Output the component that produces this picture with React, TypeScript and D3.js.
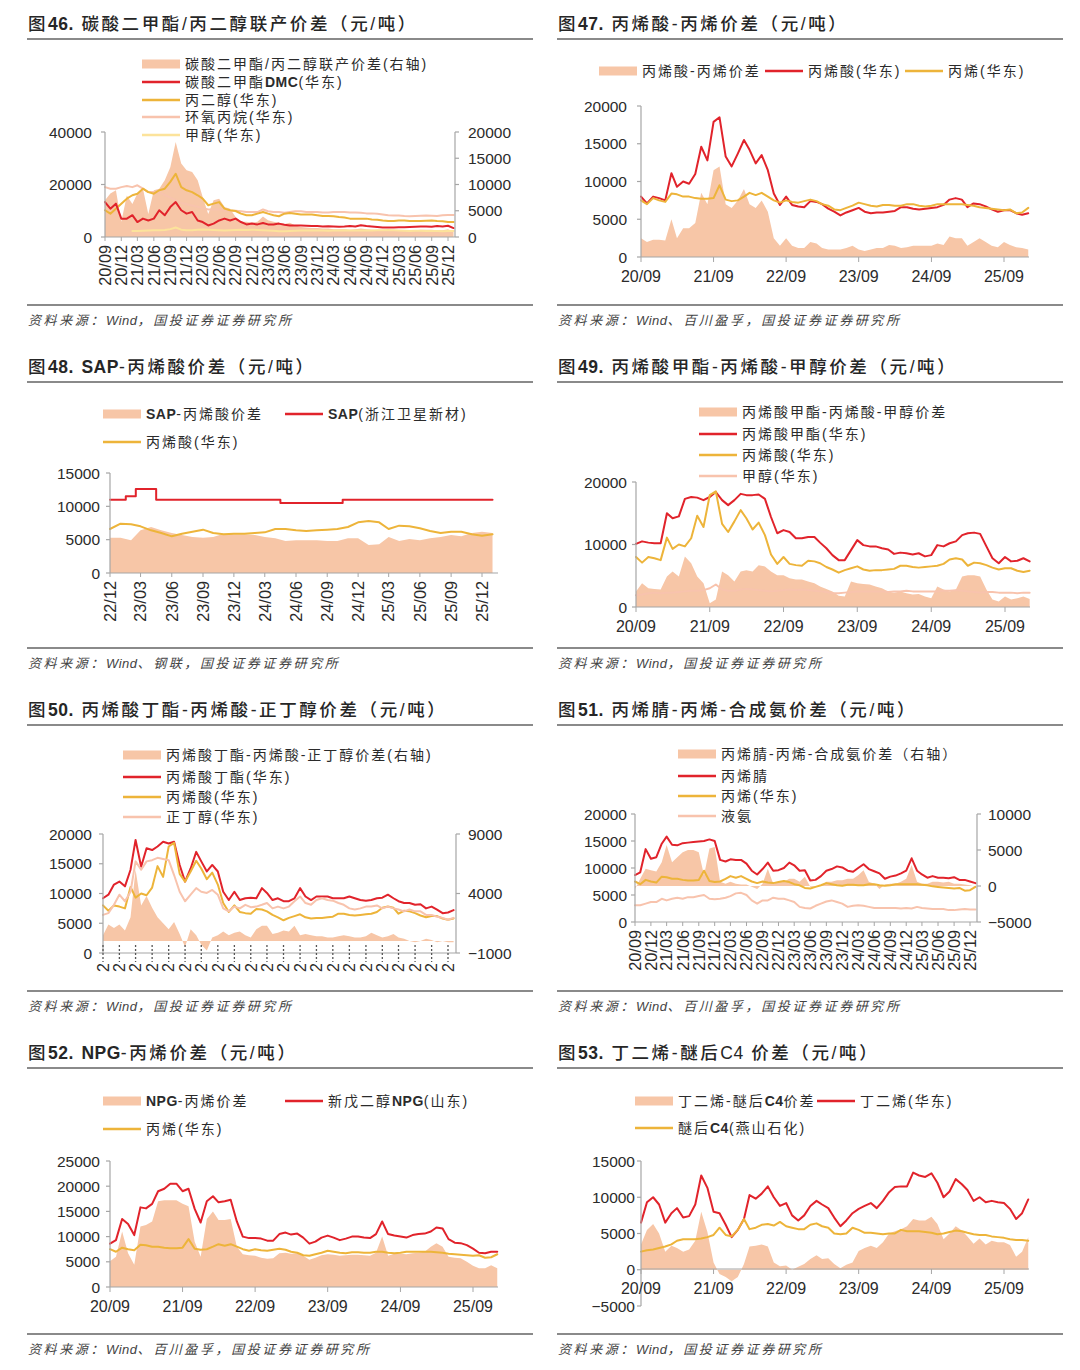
import React from 'react';
import * as d3 from 'd3';

// ---------------- categories / tick labels ----------------
const QUARTER_TICKS = ['20/09', '20/12', '21/03', '21/06', '21/09', '21/12', '22/03', '22/06', '22/09', '22/12', '23/03', '23/06', '23/09', '23/12', '24/03', '24/06', '24/09', '24/12', '25/03', '25/06', '25/09', '25/12'];
const SAP_TICKS = ['22/12', '23/03', '23/06', '23/09', '23/12', '24/03', '24/06', '24/09', '24/12', '25/03', '25/06', '25/09', '25/12'];
const YEAR_TICKS = ['20/09', '21/09', '22/09', '23/09', '24/09', '25/09'];
const STUB_LABEL = '2';

const MAIN_START = '2020-09'; // monthly series start (2020-09 .. 2026-01)
const SAP_START = '2022-12'; // SAP monthly series start (2022-12 .. 2026-01)

const TICKS_46_L = [0, 20000, 40000];
const TICKS_46_R = [0, 5000, 10000, 15000, 20000];
const TICKS_47 = [0, 5000, 10000, 15000, 20000];
const TICKS_48 = [0, 5000, 10000, 15000];
const TICKS_49 = [0, 10000, 20000];
const TICKS_50_L = [0, 5000, 10000, 15000, 20000];
const TICKS_50_R = [-1000, 4000, 9000];
const TICKS_51_L = [0, 5000, 10000, 15000, 20000];
const TICKS_51_R = [-5000, 0, 5000, 10000];
const TICKS_52 = [0, 5000, 10000, 15000, 20000, 25000];
const TICKS_53 = [-5000, 0, 5000, 10000, 15000];

// ---------------- series values (元/吨), monthly ----------------
// shared: 丙烯酸(华东)
const acrylicAcid = [8000, 7100, 8000, 7800, 7500, 11100, 9300, 10000, 9700, 11000, 14600, 12800, 17900, 18500, 13300, 12000, 13700, 15500, 14200, 12400, 13500, 11500, 8400, 6900, 8000, 6900, 6700, 6600, 7400, 7300, 7000, 6400, 6000, 5500, 5900, 6200, 6500, 6000, 5800, 5900, 5900, 6000, 6100, 6600, 6600, 6400, 6300, 6400, 6500, 6600, 6900, 7600, 7800, 7600, 6600, 7100, 7000, 6700, 6300, 6000, 6200, 6200, 5800, 5600, 5800];
// shared: 丙烯(华东)
const propylene = [7500, 7000, 7800, 7500, 7300, 8400, 8300, 8000, 8000, 7800, 7700, 7700, 7800, 9500, 7600, 7400, 7500, 8000, 8500, 8200, 8500, 8000, 7500, 7200, 7500, 7300, 7200, 7400, 7600, 7400, 7000, 6800, 6300, 6200, 6500, 6800, 7200, 7000, 6800, 6700, 6900, 6900, 6800, 6800, 7000, 7000, 6800, 6700, 6800, 7000, 7000, 7000, 7000, 7000, 6900, 6800, 6600, 6500, 6400, 6300, 6200, 6300, 5800, 5900, 6500];
// shared: 甲醇(华东)
const methanol = [1900, 2000, 2200, 2300, 2200, 2300, 2300, 2400, 2500, 2600, 2600, 2700, 3000, 3600, 2800, 2600, 2600, 2800, 2900, 2800, 2700, 2600, 2500, 2600, 2700, 2800, 2700, 2800, 2700, 2600, 2500, 2400, 2200, 2200, 2300, 2400, 2500, 2500, 2500, 2500, 2500, 2400, 2500, 2500, 2600, 2500, 2500, 2500, 2500, 2500, 2600, 2600, 2700, 2600, 2500, 2400, 2300, 2400, 2400, 2300, 2300, 2300, 2200, 2300, 2300];

// 图46
const dmcSpread = [7000, 8300, 8900, 2900, 7900, 6300, 8300, 9200, 4400, 8900, 9200, 10800, 13300, 18100, 14000, 12700, 12400, 10800, 7600, 4400, 7000, 7300, 5700, 5400, 3800, 2900, 2900, 2700, 2900, 3900, 3200, 2900, 2700, 2500, 2700, 2200, 1900, 1800, 1700, 1700, 1600, 1600, 1500, 1500, 1500, 1400, 1500, 1600, 1500, 1400, 1300, 1300, 1200, 1200, 1200, 1300, 1300, 1300, 1400, 1400, 1400, 1300, 1300, 1500, 1000];
const dmc = [13300, 10800, 12700, 7000, 7000, 8300, 5700, 7000, 6300, 7000, 10200, 8300, 11400, 13300, 10200, 8900, 9500, 6300, 5700, 4400, 5100, 6300, 7000, 6300, 7000, 5700, 4800, 5100, 4800, 5300, 4800, 4800, 5100, 4700, 4400, 4400, 4400, 4300, 4200, 4200, 4000, 4100, 4000, 3900, 4000, 4200, 4000, 4500, 4200, 4000, 3800, 3600, 3600, 3600, 3700, 3700, 3800, 3900, 4000, 4000, 3900, 4200, 4000, 4300, 3400];
const propyleneGlycol = [10200, 8900, 10800, 12700, 14600, 15900, 16500, 18400, 17100, 16500, 17800, 18400, 21000, 24100, 19000, 17800, 17100, 15900, 14600, 12100, 12700, 13300, 10800, 10200, 9900, 8900, 8300, 8300, 8900, 9500, 8900, 8300, 7900, 8900, 9100, 8900, 8600, 8600, 8600, 8300, 8000, 8000, 7900, 7600, 7400, 7000, 7000, 7000, 7000, 6700, 6600, 6300, 6100, 6100, 6300, 6300, 6100, 6100, 6100, 6200, 6300, 6100, 6000, 5700, 5700];
const propyleneOxide = [19000, 18400, 18400, 19000, 19400, 19000, 19700, 18400, 17100, 17100, 17000, 16000, 15000, 14000, 13000, 12500, 12000, 11500, 11000, 10500, 10500, 10500, 10000, 10000, 10000, 9800, 9500, 9500, 9500, 10500, 9800, 9500, 9500, 9200, 9500, 9800, 9800, 9500, 9500, 9500, 9300, 9300, 9500, 9500, 9500, 9300, 9300, 9200, 9000, 9000, 8900, 8600, 8300, 8200, 8200, 8000, 7900, 8000, 8100, 8200, 8100, 8000, 8300, 8400, 8400];

// 图47
const acrylicSpread = [2500, 2000, 2300, 2300, 2200, 5000, 2500, 3800, 3800, 4500, 8500, 7000, 11500, 12000, 7000, 6500, 7500, 9000, 7000, 6500, 7500, 6000, 2500, 1500, 2500, 1500, 1200, 1200, 2000, 1800, 1200, 1000, 1000, 1000, 1200, 1500, 1000, 800, 1000, 1200, 1200, 1600, 1500, 1200, 1300, 1500, 1500, 1500, 1500, 1800, 1600, 2700, 2500, 2500, 1500, 2000, 2500, 2000, 1500, 1300, 2000, 1600, 1300, 1200, 1000];

// 图48
const sapPrice = [11000, 11000, 11500, 12600, 12600, 11000, 11000, 11000, 11000, 11000, 11000, 11000, 11000, 11000, 11000, 11000, 11000, 10500, 10500, 10500, 10500, 10500, 10500, 11000, 11000, 11000, 11000, 11000, 11000, 11000, 11000, 11000, 11000, 11000, 11000, 11000, 11000, 11000];
const sapSpread = [5300, 5300, 4900, 6400, 6900, 6400, 6000, 5700, 5400, 5300, 5400, 5900, 5800, 5800, 5700, 5400, 5200, 4800, 4900, 4900, 4900, 4800, 4800, 5200, 5200, 4200, 4300, 5400, 4800, 5100, 4900, 5200, 5400, 5700, 5500, 6000, 6200, 6000];
const acrylicAcidSap = acrylicAcid.slice(27);

// 图49
const methylAcrylate = [10100, 10500, 10300, 10200, 10200, 15000, 14200, 14500, 17300, 17600, 17500, 17100, 17600, 18400, 17100, 16300, 17100, 18100, 17900, 17900, 18000, 17300, 14400, 11800, 12300, 12000, 11000, 11000, 11200, 11200, 10300, 9400, 8300, 7500, 7500, 9100, 10700, 9900, 9700, 9700, 9400, 9200, 8500, 8700, 8600, 8400, 8600, 8100, 8300, 9900, 9700, 10200, 10500, 11500, 11800, 11900, 11700, 9700, 7800, 7000, 8000, 7300, 7400, 7800, 7300];
const maSpread = [2500, 3800, 3000, 2900, 2800, 4900, 5700, 4900, 8100, 7000, 4900, 3800, 600, 1200, 5700, 5100, 4100, 5700, 5900, 5700, 6700, 6500, 5700, 5100, 5100, 4600, 4400, 4400, 4100, 3800, 3300, 2900, 2500, 1800, 1700, 4100, 3800, 3700, 3600, 3300, 3000, 2500, 2300, 2500, 2200, 2000, 2100, 1700, 1400, 3300, 2800, 2500, 2800, 4900, 5100, 5100, 4900, 2800, 1200, 900, 1700, 1200, 1400, 1700, 1300];

// 图50
const butylAcrylate = [9200, 9800, 11500, 12000, 11200, 14000, 19000, 14500, 17600, 17300, 17900, 18700, 18400, 18700, 14800, 12000, 14200, 17000, 15400, 13700, 14800, 13700, 10300, 8900, 10300, 8900, 9200, 9300, 9200, 10900, 10100, 8900, 9200, 8700, 8700, 9200, 10900, 9500, 8900, 9500, 9500, 9500, 9200, 9200, 9200, 9500, 9200, 8900, 8800, 8900, 9200, 9300, 9800, 9200, 8700, 8400, 8400, 8100, 8200, 7500, 7800, 7300, 6700, 6800, 7200];
const nButanol = [6400, 6700, 8100, 9800, 8700, 10300, 15400, 14000, 15400, 15600, 16000, 15800, 15600, 13100, 10300, 8700, 9800, 10900, 10300, 10100, 10600, 9800, 7500, 7000, 7800, 7500, 8100, 7700, 7800, 8100, 8400, 7500, 7800, 7500, 7800, 8700, 9500, 8400, 8100, 8900, 9200, 8900, 8800, 8400, 8100, 7500, 7300, 7500, 7800, 7800, 8000, 7500, 7800, 7500, 7300, 7000, 7300, 7000, 7000, 6400, 6400, 6100, 5900, 5600, 5900];
const baSpread = [500, 1400, 1100, 1400, 900, 2000, 6000, 3000, 3800, 2800, 2000, 1500, 1000, 1600, 600, -500, 1000, 500, -300, -800, 300, 500, 800, 500, 700, 800, 500, 300, 1000, 1300, 1300, 600, 700, 900, 800, 1300, 500, 600, 500, 400, 400, 300, 300, 400, 500, 400, 300, 300, 400, 700, 500, 300, 400, 600, 300, 200, 0, -100, 0, 200, 100, -100, 0, -100, -100];

// 图51
const acrylonitrile = [8700, 9200, 13500, 11700, 12000, 14500, 15800, 14300, 14200, 14600, 14700, 14800, 14900, 15000, 15300, 15000, 11500, 11200, 11600, 11500, 11500, 10800, 9500, 8800, 9800, 11000, 9500, 9600, 10000, 11000, 10500, 9500, 9600, 7700, 7800, 8500, 9500, 9800, 10300, 10100, 9500, 9300, 10000, 10700, 9800, 9400, 9000, 8000, 8400, 8600, 9000, 9500, 11800, 9500, 8800, 8200, 8500, 8200, 8200, 8100, 8300, 7800, 7800, 7500, 7200];
const ammonia = [3100, 3100, 3400, 3700, 3700, 4300, 4000, 4300, 4500, 4300, 4600, 4600, 4800, 5000, 4300, 4200, 4300, 4500, 4800, 5300, 5400, 5000, 4000, 3400, 4000, 4000, 4500, 4300, 4300, 4000, 3700, 2800, 2600, 2500, 3000, 3400, 3800, 4000, 3700, 3400, 2800, 3000, 3100, 3000, 2800, 2600, 2600, 2600, 2600, 2600, 2500, 2600, 2500, 2800, 2600, 2500, 2400, 2400, 2400, 2200, 2200, 2300, 2400, 2300, 2300];
const anSpread = [-400, 1000, 2400, 2200, 2000, 3300, 5700, 3300, 4000, 4700, 5000, 5000, 4700, 1500, 5200, 5400, 600, 300, 600, 300, 200, 200, -100, -400, 300, 2400, 300, 600, 600, 1000, 1000, 600, 1300, -100, -100, 100, 600, 600, 800, 800, 1000, 1000, 1500, 2200, 600, 300, -400, 200, 300, 300, 600, 1000, 2900, 600, 300, 300, 600, 600, 500, 600, 300, 300, 200, 100, -100];

// 图52
const npg = [8600, 9300, 13500, 12500, 10300, 15800, 15600, 16500, 19000, 19500, 20500, 20500, 19000, 19500, 15500, 12800, 17000, 18000, 16800, 17000, 17300, 13000, 10000, 9700, 9700, 9600, 9200, 9200, 10500, 10800, 10400, 10600, 9800, 8600, 9000, 9800, 10200, 9800, 9300, 9600, 10000, 10000, 9800, 9700, 10500, 13000, 10500, 10200, 10000, 9800, 10300, 10500, 10600, 11000, 11800, 11600, 9500, 8800, 8700, 8300, 7600, 6800, 6700, 7000, 7000];
const npgSpread = [5100, 6000, 11000, 6700, 4400, 12000, 12300, 13000, 17000, 17200, 17200, 17200, 16500, 16000, 9000, 6000, 13500, 15000, 13300, 13300, 13500, 8000, 6500, 6300, 6200, 5800, 5600, 5700, 6700, 6800, 6600, 6700, 6200, 5400, 5800, 6300, 6500, 6400, 6200, 6300, 6400, 6400, 6300, 6200, 6800, 10000, 6200, 6600, 6600, 6500, 6700, 6800, 7000, 8000, 8700, 8000, 6000, 5800, 5700, 5000, 4200, 3700, 3700, 4300, 3700];

// 图53
const butadiene = [6500, 9300, 10000, 9000, 6500, 7800, 8500, 7200, 7400, 9000, 13000, 11300, 8000, 7800, 6200, 4500, 5500, 7000, 10300, 9800, 10500, 11500, 10000, 8800, 9200, 7500, 6800, 7500, 8800, 9500, 9000, 8500, 7200, 6000, 6800, 7800, 8400, 8800, 9200, 8500, 9500, 10700, 11400, 11500, 11500, 13400, 13000, 12800, 13300, 12000, 10000, 10800, 12500, 11800, 11000, 9500, 10000, 9300, 9500, 9300, 9200, 8400, 7000, 7800, 9700];
const c4Raffinate = [2500, 2700, 2800, 3000, 3200, 3500, 4000, 4200, 4200, 4200, 4300, 4500, 4800, 5800, 4800, 4600, 5500, 7000, 5600, 5800, 6200, 6300, 6100, 6600, 6000, 5800, 5600, 5600, 6200, 6400, 6000, 5800, 5000, 4900, 5000, 5800, 5500, 5100, 5100, 5000, 4900, 5000, 5000, 5500, 5300, 5300, 5300, 5200, 5100, 4900, 5000, 5200, 5400, 5300, 5100, 4900, 4800, 4800, 4600, 4500, 4400, 4200, 4100, 4100, 4000];
const bdSpread = [3500, 5500, 6300, 5000, 2500, 3300, 3000, 2500, 2800, 4000, 8000, 5200, 1000, -600, -1000, -1600, -1000, 800, 3200, 3300, 3500, 3200, 1000, 500, 600, 0, 400, 800, 1500, 2000, 1500, 1600, 800, 200, 700, 1000, 2600, 3000, 3300, 3000, 3800, 5000, 5300, 5600, 6000, 7000, 6800, 6800, 7300, 6300, 4200, 5000, 6000, 5400, 4600, 3600, 4300, 3500, 4000, 3800, 3800, 3400, 1800, 2500, 4500];

// ---------------- styles ----------------
const C_AREA = '#F7C6A7';
const C_RED = '#E1232B';
const C_GOLD = '#EDB43A';
const C_PINK = '#F8C3AD';
const C_PALE = '#FCE39B';
const C_AXIS = '#a6a6a6';
const C_TEXT = '#2b2b2b';
const F_NUM = "'Liberation Sans', Arial, sans-serif";
const F_MIX = "'Liberation Sans', 'Noto Sans CJK SC', sans-serif";

// ---------------- helpers ----------------
const parseYM = (s: string) => {
  const [y, m] = s.split('-');
  return new Date(+y, +m - 1, 1);
};
const parseTick = (s: string) => new Date(2000 + +s.slice(0, 2), +s.slice(3, 5) - 1, 1);
const fmtNum = (v: number) => (v < 0 ? '\u2212' + Math.abs(v) : String(v));
const LATIN = /^[A-Za-z0-9.]+$/;
const splitRuns = (s: string) => s.split(/([A-Za-z0-9.]+)/).filter((t) => t.length > 0);

function Rich({ text, spacing, latinBold, bold }: { text: string; spacing: number; latinBold?: boolean; bold?: boolean }) {
  return (
    <>
      {splitRuns(text).map((t, i) => {
        const latin = LATIN.test(t);
        return (
          <tspan
            key={i}
            letterSpacing={latin ? 0.5 : spacing}
            fontWeight={bold || (latin && latinBold) ? 700 : undefined}
          >
            {t}
          </tspan>
        );
      })}
    </>
  );
}

type SeriesSpec = {
  kind: 'area' | 'line';
  values: number[];
  start: string;
  from?: number;
  color: string;
  axis?: 'left' | 'right';
  width?: number;
  curve?: d3.CurveFactory;
};
type AxisSpec = { domain: [number, number]; range: [number, number]; ticks: number[]; x: number; labelX: number };
type LegendItem = { label: string; kind: 'area' | 'line'; color: string; x: number; y: number };
type PanelSpec = {
  row: number;
  x0: number;
  x1: number;
  title: [string, boolean][];
  source: string;
  xTicks: string[];
  xRange: [number, number];
  xAxisY: number;
  xAxisEnd: number;
  xLabel: 'rotated' | 'horizontal' | 'stub';
  left: AxisSpec;
  right?: AxisSpec;
  series: SeriesSpec[];
  legend: LegendItem[];
};

const PANELS: PanelSpec[] = [
  {
    row: 0, x0: 27, x1: 533,
    title: [['图', false], ['46.', true], [' 碳酸二甲酯/丙二醇联产价差（元/吨）', false]],
    source: '资料来源：Wind，国投证券证券研究所',
    xTicks: QUARTER_TICKS, xRange: [105, 448], xAxisY: 237, xAxisEnd: 455, xLabel: 'rotated',
    left: { domain: [0, 40000], range: [237, 132], ticks: TICKS_46_L, x: 105, labelX: 92 },
    right: { domain: [0, 20000], range: [237, 132], ticks: TICKS_46_R, x: 455, labelX: 468 },
    series: [
      { kind: 'area', values: dmcSpread, start: MAIN_START, color: C_AREA, axis: 'right' },
      { kind: 'line', values: propyleneOxide, start: MAIN_START, color: C_PINK },
      { kind: 'line', values: methanol, start: MAIN_START, from: 5, color: C_PALE },
      { kind: 'line', values: propyleneGlycol, start: MAIN_START, color: C_GOLD },
      { kind: 'line', values: dmc, start: MAIN_START, color: C_RED },
    ],
    legend: [
      { label: '碳酸二甲酯/丙二醇联产价差(右轴)', kind: 'area', color: C_AREA, x: 142, y: 64 },
      { label: '碳酸二甲酯DMC(华东)', kind: 'line', color: C_RED, x: 142, y: 82 },
      { label: '丙二醇(华东)', kind: 'line', color: C_GOLD, x: 142, y: 100 },
      { label: '环氧丙烷(华东)', kind: 'line', color: C_PINK, x: 142, y: 117 },
      { label: '甲醇(华东)', kind: 'line', color: C_PALE, x: 142, y: 135 },
    ],
  },
  {
    row: 0, x0: 557, x1: 1063,
    title: [['图', false], ['47.', true], [' 丙烯酸-丙烯价差（元/吨）', false]],
    source: '资料来源：Wind、百川盈孚，国投证券证券研究所',
    xTicks: YEAR_TICKS, xRange: [641, 1004], xAxisY: 257, xAxisEnd: 1029, xLabel: 'horizontal',
    left: { domain: [0, 20000], range: [257, 106], ticks: TICKS_47, x: 641, labelX: 627 },
    series: [
      { kind: 'area', values: acrylicSpread, start: MAIN_START, color: C_AREA },
      { kind: 'line', values: acrylicAcid, start: MAIN_START, color: C_RED },
      { kind: 'line', values: propylene, start: MAIN_START, color: C_GOLD },
    ],
    legend: [
      { label: '丙烯酸-丙烯价差', kind: 'area', color: C_AREA, x: 599, y: 71 },
      { label: '丙烯酸(华东)', kind: 'line', color: C_RED, x: 765, y: 71 },
      { label: '丙烯(华东)', kind: 'line', color: C_GOLD, x: 905, y: 71 },
    ],
  },
  {
    row: 1, x0: 27, x1: 533,
    title: [['图', false], ['48. SAP', true], ['-丙烯酸价差（元/吨）', false]],
    source: '资料来源：Wind、钢联，国投证券证券研究所',
    xTicks: SAP_TICKS, xRange: [110, 482], xAxisY: 573, xAxisEnd: 498, xLabel: 'rotated',
    left: { domain: [0, 15000], range: [573, 473], ticks: TICKS_48, x: 110, labelX: 100 },
    series: [
      { kind: 'area', values: sapSpread, start: SAP_START, color: C_AREA },
      { kind: 'line', values: sapPrice, start: SAP_START, color: C_RED, curve: d3.curveStep },
      { kind: 'line', values: acrylicAcidSap, start: SAP_START, color: C_GOLD },
    ],
    legend: [
      { label: 'SAP-丙烯酸价差', kind: 'area', color: C_AREA, x: 103, y: 414 },
      { label: 'SAP(浙江卫星新材)', kind: 'line', color: C_RED, x: 285, y: 414 },
      { label: '丙烯酸(华东)', kind: 'line', color: C_GOLD, x: 103, y: 442 },
    ],
  },
  {
    row: 1, x0: 557, x1: 1063,
    title: [['图', false], ['49.', true], [' 丙烯酸甲酯-丙烯酸-甲醇价差（元/吨）', false]],
    source: '资料来源：Wind，国投证券证券研究所',
    xTicks: YEAR_TICKS, xRange: [636, 1005], xAxisY: 607, xAxisEnd: 1030, xLabel: 'horizontal',
    left: { domain: [0, 20000], range: [607, 482], ticks: TICKS_49, x: 636, labelX: 627 },
    series: [
      { kind: 'area', values: maSpread, start: MAIN_START, color: C_AREA },
      { kind: 'line', values: methylAcrylate, start: MAIN_START, color: C_RED },
      { kind: 'line', values: acrylicAcid, start: MAIN_START, color: C_GOLD },
      { kind: 'line', values: methanol, start: MAIN_START, color: C_PINK },
    ],
    legend: [
      { label: '丙烯酸甲酯-丙烯酸-甲醇价差', kind: 'area', color: C_AREA, x: 699, y: 412 },
      { label: '丙烯酸甲酯(华东)', kind: 'line', color: C_RED, x: 699, y: 434 },
      { label: '丙烯酸(华东)', kind: 'line', color: C_GOLD, x: 699, y: 455 },
      { label: '甲醇(华东)', kind: 'line', color: C_PINK, x: 699, y: 476 },
    ],
  },
  {
    row: 2, x0: 27, x1: 533,
    title: [['图', false], ['50.', true], [' 丙烯酸丁酯-丙烯酸-正丁醇价差（元/吨）', false]],
    source: '资料来源：Wind，国投证券证券研究所',
    xTicks: QUARTER_TICKS, xRange: [103, 448], xAxisY: 953, xAxisEnd: 456, xLabel: 'stub',
    left: { domain: [0, 20000], range: [953, 834], ticks: TICKS_50_L, x: 103, labelX: 92 },
    right: { domain: [-1000, 9000], range: [953, 834], ticks: TICKS_50_R, x: 456, labelX: 468 },
    series: [
      { kind: 'area', values: baSpread, start: MAIN_START, color: C_AREA, axis: 'right' },
      { kind: 'line', values: butylAcrylate, start: MAIN_START, color: C_RED },
      { kind: 'line', values: acrylicAcid, start: MAIN_START, color: C_GOLD },
      { kind: 'line', values: nButanol, start: MAIN_START, color: C_PINK },
    ],
    legend: [
      { label: '丙烯酸丁酯-丙烯酸-正丁醇价差(右轴)', kind: 'area', color: C_AREA, x: 123, y: 755 },
      { label: '丙烯酸丁酯(华东)', kind: 'line', color: C_RED, x: 123, y: 777 },
      { label: '丙烯酸(华东)', kind: 'line', color: C_GOLD, x: 123, y: 797 },
      { label: '正丁醇(华东)', kind: 'line', color: C_PINK, x: 123, y: 817 },
    ],
  },
  {
    row: 2, x0: 557, x1: 1063,
    title: [['图', false], ['51.', true], [' 丙烯腈-丙烯-合成氨价差（元/吨）', false]],
    source: '资料来源：Wind、百川盈孚，国投证券证券研究所',
    xTicks: QUARTER_TICKS, xRange: [635, 970], xAxisY: 922, xAxisEnd: 977, xLabel: 'rotated',
    left: { domain: [0, 20000], range: [922, 814], ticks: TICKS_51_L, x: 635, labelX: 627 },
    right: { domain: [-5000, 10000], range: [922, 814], ticks: TICKS_51_R, x: 977, labelX: 988 },
    series: [
      { kind: 'area', values: anSpread, start: MAIN_START, color: C_AREA, axis: 'right' },
      { kind: 'line', values: acrylonitrile, start: MAIN_START, color: C_RED },
      { kind: 'line', values: propylene, start: MAIN_START, color: C_GOLD },
      { kind: 'line', values: ammonia, start: MAIN_START, color: C_PINK },
    ],
    legend: [
      { label: '丙烯腈-丙烯-合成氨价差（右轴）', kind: 'area', color: C_AREA, x: 678, y: 754 },
      { label: '丙烯腈', kind: 'line', color: C_RED, x: 678, y: 776 },
      { label: '丙烯(华东)', kind: 'line', color: C_GOLD, x: 678, y: 796 },
      { label: '液氨', kind: 'line', color: C_PINK, x: 678, y: 816 },
    ],
  },
  {
    row: 3, x0: 27, x1: 533,
    title: [['图', false], ['52. NPG', true], ['-丙烯价差（元/吨）', false]],
    source: '资料来源：Wind、百川盈孚，国投证券证券研究所',
    xTicks: YEAR_TICKS, xRange: [110, 473], xAxisY: 1287, xAxisEnd: 498, xLabel: 'horizontal',
    left: { domain: [0, 25000], range: [1287, 1161], ticks: TICKS_52, x: 110, labelX: 100 },
    series: [
      { kind: 'area', values: npgSpread, start: MAIN_START, color: C_AREA },
      { kind: 'line', values: npg, start: MAIN_START, color: C_RED },
      { kind: 'line', values: propylene, start: MAIN_START, color: C_GOLD },
    ],
    legend: [
      { label: 'NPG-丙烯价差', kind: 'area', color: C_AREA, x: 103, y: 1101 },
      { label: '新戊二醇NPG(山东)', kind: 'line', color: C_RED, x: 285, y: 1101 },
      { label: '丙烯(华东)', kind: 'line', color: C_GOLD, x: 103, y: 1129 },
    ],
  },
  {
    row: 3, x0: 557, x1: 1063,
    title: [['图', false], ['53.', true], [' 丁二烯-醚后C4 价差（元/吨）', false]],
    source: '资料来源：Wind，国投证券证券研究所',
    xTicks: YEAR_TICKS, xRange: [641, 1004], xAxisY: 1269, xAxisEnd: 1029, xLabel: 'horizontal',
    left: { domain: [-5000, 15000], range: [1306, 1161], ticks: TICKS_53, x: 641, labelX: 635 },
    series: [
      { kind: 'area', values: bdSpread, start: MAIN_START, color: C_AREA },
      { kind: 'line', values: butadiene, start: MAIN_START, color: C_RED },
      { kind: 'line', values: c4Raffinate, start: MAIN_START, color: C_GOLD },
    ],
    legend: [
      { label: '丁二烯-醚后C4价差', kind: 'area', color: C_AREA, x: 635, y: 1101 },
      { label: '丁二烯(华东)', kind: 'line', color: C_RED, x: 817, y: 1101 },
      { label: '醚后C4(燕山石化)', kind: 'line', color: C_GOLD, x: 635, y: 1128 },
    ],
  },
];

type Pt = [Date, number];

function Panel({ p }: { p: PanelSpec }) {
  const off = p.row * 343;
  const x = d3
    .scaleTime()
    .domain([parseTick(p.xTicks[0]), parseTick(p.xTicks[p.xTicks.length - 1])])
    .range(p.xRange);
  const yL = d3.scaleLinear().domain(p.left.domain).range(p.left.range);
  const yR = p.right ? d3.scaleLinear().domain(p.right.domain).range(p.right.range) : yL;

  const marks = p.series.map((s, si) => {
    const y = s.axis === 'right' ? yR : yL;
    const st = parseYM(s.start);
    const pts: Pt[] = s.values.map((v, i) => [d3.timeMonth.offset(st, i), v] as Pt).slice(s.from || 0);
    if (s.kind === 'area') {
      const gen = d3
        .area<Pt>()
        .x((d) => x(d[0]))
        .y0(y(0))
        .y1((d) => y(d[1]));
      return <path key={si} d={gen(pts) || ''} fill={s.color} stroke="none" />;
    }
    const gen = d3
      .line<Pt>()
      .x((d) => x(d[0]))
      .y((d) => y(d[1]))
      .curve(s.curve || d3.curveLinear);
    return (
      <path
        key={si}
        d={gen(pts) || ''}
        fill="none"
        stroke={s.color}
        strokeWidth={s.width || 2}
        strokeLinejoin="round"
        strokeLinecap="round"
      />
    );
  });

  const xTickEls = p.xTicks.map((t, i) => {
    const px = x(parseTick(t));
    if (p.xLabel === 'horizontal') {
      return (
        <g key={i}>
          <line x1={px} x2={px} y1={p.xAxisY} y2={p.xAxisY + 5} stroke={C_AXIS} strokeWidth={1} />
          <text x={px} y={p.xAxisY + 25} textAnchor="middle" fontFamily={F_NUM} fontSize={16} fill={C_TEXT}>
            {t}
          </text>
        </g>
      );
    }
    if (p.xLabel === 'rotated') {
      return (
        <g key={i}>
          <line x1={px} x2={px} y1={p.xAxisY} y2={p.xAxisY + 4} stroke={C_AXIS} strokeWidth={1} />
          <text
            transform={`translate(${px + 5.8},${p.xAxisY + 8}) rotate(-90)`}
            textAnchor="end"
            fontFamily={F_NUM}
            fontSize={16.3}
            fill={C_TEXT}
          >
            {t}
          </text>
        </g>
      );
    }
    return (
      <g key={i}>
        <line
          x1={px}
          x2={px}
          y1={p.xAxisY - 8}
          y2={p.xAxisY + 9}
          stroke="#555"
          strokeWidth={1.3}
          strokeDasharray="2,2"
        />
        <text
          transform={`translate(${px + 5.8},${p.xAxisY + 10}) rotate(-90)`}
          textAnchor="end"
          fontFamily={F_NUM}
          fontSize={16}
          fill={C_TEXT}
        >
          {STUB_LABEL}
        </text>
      </g>
    );
  });

  const yAxis = (a: AxisSpec, scale: d3.ScaleLinear<number, number>, side: 'left' | 'right') => (
    <g>
      <line x1={a.x} x2={a.x} y1={Math.min(...a.range)} y2={Math.max(...a.range)} stroke={C_AXIS} strokeWidth={1.2} />
      {a.ticks.map((t, i) => (
        <g key={i}>
          <line
            x1={a.x}
            x2={side === 'left' ? a.x - 4 : a.x + 4}
            y1={scale(t)}
            y2={scale(t)}
            stroke={C_AXIS}
            strokeWidth={1.2}
          />
          <text
            x={a.labelX}
            y={scale(t) + 5.5}
            textAnchor={side === 'left' ? 'end' : 'start'}
            fontFamily={F_NUM}
            fontSize={15.5}
            fill={C_TEXT}
          >
            {fmtNum(t)}
          </text>
        </g>
      ))}
    </g>
  );

  return (
    <g>
      <text x={p.x0 + 1} y={30 + off} fontFamily={F_MIX} fontSize={17.5} fill="#262626" fontWeight={500}>
        {p.title.map(([s, b], i) => (
          <Rich key={i} text={s} spacing={2.6} bold={b} />
        ))}
      </text>
      <line x1={p.x0} x2={p.x1} y1={39 + off} y2={39 + off} stroke="#8a8a8a" strokeWidth={1.8} />
      <line x1={p.x0} x2={p.x1} y1={305 + off} y2={305 + off} stroke="#8a8a8a" strokeWidth={1.8} />
      <text x={p.x0 + 1} y={325 + off} fontFamily={F_MIX} fontSize={13} fontStyle="italic" fill="#444">
        <Rich text={p.source} spacing={2.6} />
      </text>

      {p.legend.map((l, i) => (
        <g key={i}>
          {l.kind === 'area' ? (
            <rect x={l.x} y={l.y - 4.5} width={38} height={9} fill={l.color} />
          ) : (
            <line x1={l.x} x2={l.x + 38} y1={l.y} y2={l.y} stroke={l.color} strokeWidth={2.5} />
          )}
          <text x={l.x + 43} y={l.y + 5} fontFamily={F_MIX} fontSize={14} fill={C_TEXT}>
            <Rich text={l.label} spacing={2} latinBold />
          </text>
        </g>
      ))}

      {marks}

      {yAxis(p.left, yL, 'left')}
      {p.right ? yAxis(p.right, yR, 'right') : null}
      <line x1={p.left.x} x2={p.xAxisEnd} y1={p.xAxisY} y2={p.xAxisY} stroke={C_AXIS} strokeWidth={1.2} />
      {xTickEls}
    </g>
  );
}

export default function App() {
  return (
    <div style={{ position: 'absolute', left: 0, top: 0, background: '#fff' }}>
      <svg width={1080} height={1370} viewBox="0 0 1080 1370" style={{ display: 'block', background: '#fff' }}>
        {PANELS.map((p, i) => (
          <Panel key={i} p={p} />
        ))}
      </svg>
    </div>
  );
}
